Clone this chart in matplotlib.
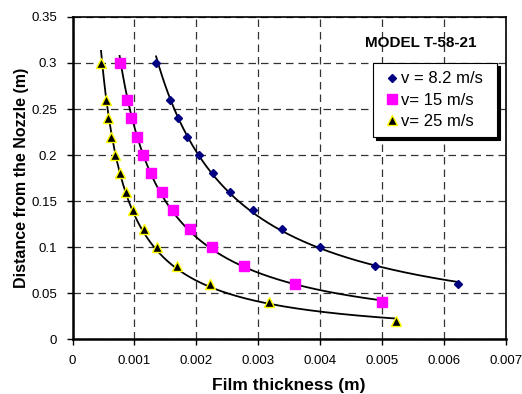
import numpy as np
import matplotlib
matplotlib.use("Agg")
import matplotlib.pyplot as plt
from matplotlib.lines import Line2D
from matplotlib.legend_handler import HandlerLine2D

plt.rcParams['font.family'] = ['Liberation Sans', 'DejaVu Sans']

# distance from the nozzle (m)
dist_82 = [0.30, 0.26, 0.24, 0.22, 0.20, 0.18, 0.16, 0.14, 0.12, 0.10, 0.08, 0.06]
dist_15 = [0.30, 0.26, 0.24, 0.22, 0.20, 0.18, 0.16, 0.14, 0.12, 0.10, 0.08, 0.06, 0.04]
dist_25 = [0.30, 0.26, 0.24, 0.22, 0.20, 0.18, 0.16, 0.14, 0.12, 0.10, 0.08, 0.06, 0.04, 0.02]

# film thickness (m)
film_82 = [0.00135, 0.00157, 0.00170, 0.001855, 0.00205, 0.00227, 0.00255,
           0.00291, 0.00338, 0.00400, 0.00489, 0.00622]
film_15 = [0.00076, 0.00088, 0.00095, 0.00104, 0.00114, 0.00127, 0.00144,
           0.00163, 0.00189, 0.00225, 0.00277, 0.00360, 0.00500]
film_25 = [0.00046, 0.00054, 0.00058, 0.00062, 0.00069, 0.00076, 0.00086,
           0.00098, 0.00115, 0.00137, 0.00169, 0.00222, 0.00317, 0.00522]

x_ticks = [0, 0.001, 0.002, 0.003, 0.004, 0.005, 0.006, 0.007]
x_labels = ['0', '0.001', '0.002', '0.003', '0.004', '0.005', '0.006', '0.007']
y_ticks = [0, 0.05, 0.1, 0.15, 0.2, 0.25, 0.3, 0.35]
y_labels = ['0', '0.05', '0.1', '0.15', '0.2', '0.25', '0.3', '0.35']


def power_trend(x, y):
    # power-law trendline y = a * x^b over the range of the data
    b, loga = np.polyfit(np.log(x), np.log(y), 1)
    xs = np.linspace(min(x), max(x), 200)
    return xs, np.exp(loga) * xs ** b


fig = plt.figure(figsize=(5.22, 3.94), dpi=100)
ax = fig.add_axes([0.139, 0.139, 0.830, 0.818])

for x, y in [(film_82, dist_82), (film_15, dist_15), (film_25, dist_25)]:
    xs, ys = power_trend(x, y)
    ax.plot(xs, ys, color='black', lw=1.3, zorder=2)

ax.plot(film_82, dist_82, ls='none', marker='D', ms=4.2, color='#000080',
        mec='#000080', label='v = 8.2 m/s', zorder=3)
ax.plot(film_15, dist_15, ls='none', marker='s', ms=7.3, color='#ff00ff',
        mec='#ff00ff', label='v= 15 m/s', zorder=3)
ax.plot(film_25, dist_25, ls='none', marker='^', ms=7.5, color='black',
        mec='#ffff00', mew=1.0, label='v= 25 m/s', zorder=4)

ax.set_xlim(0, 0.007)
ax.set_ylim(0, 0.35)
ax.set_xticks(x_ticks)
ax.set_xticklabels(x_labels)
ax.set_yticks(y_ticks)
ax.set_yticklabels(y_labels)
ax.tick_params(labelsize=9.5, direction='out', length=4, width=1, pad=7)
ax.grid(True, color='#333333', ls=(0, (6, 4)), lw=0.9)
ax.set_axisbelow(True)

for s in ax.spines.values():
    s.set_linewidth(1.2)
ax.spines['left'].set_linewidth(1.8)
ax.spines['bottom'].set_linewidth(1.8)

ax.set_xlabel('Film thickness (m)', fontsize=12.5, fontweight='bold', labelpad=8)
ax.set_ylabel('Distance from the Nozzle (m)', fontsize=11.5, fontweight='bold', labelpad=2)

ax.text(0.803, 0.920, 'MODEL T-58-21', transform=ax.transAxes, ha='center',
        va='center', fontsize=11, fontweight='bold')

# legend box spans a fixed width; markers sit just before their labels
leg = ax.legend(loc='upper left', bbox_to_anchor=(0.6935, 0.6, 0.2864, 0.257),
                mode='expand', fontsize=12, frameon=True, fancybox=False,
                shadow={'color': 'black', 'alpha': 1},
                handler_map={Line2D: HandlerLine2D(xpad=0.16)},
                handlelength=1.16, handletextpad=0.0, borderpad=0.5,
                labelspacing=0.38, borderaxespad=0)
leg.get_frame().set_edgecolor('black')
leg.get_frame().set_linewidth(0.8)

fig.savefig('out.png', dpi=100)
